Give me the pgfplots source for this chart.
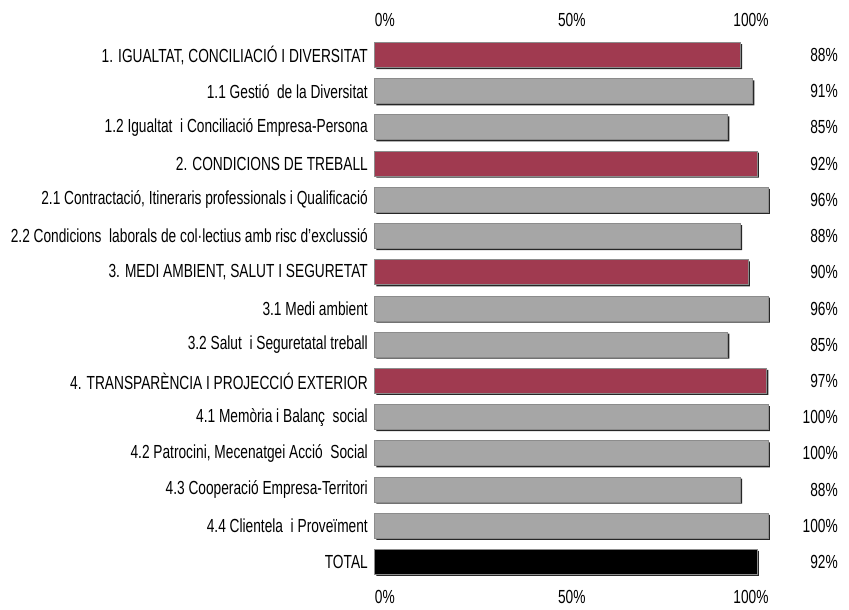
\documentclass[border=0pt]{standalone}
\usepackage{pgfplots}
\pgfplotsset{compat=1.18}
\usepackage{fontspec}
\setmainfont{Liberation Sans}[FakeStretch=0.725]
\definecolor{maroon}{HTML}{A03A50}
\definecolor{bargray}{HTML}{A6A6A6}
\definecolor{edgegray}{HTML}{8C8C8C}
\newcommand{\lblfont}{\fontsize{19}{19}\selectfont}
\begin{document}
\begin{tikzpicture}
\pgfplotsset{
  base/.style={
    scale only axis, width=393.5bp, height=557.6bp,
    xmin=0, xmax=100, ymin=-0.7, ymax=14.7, y dir=reverse,
    axis line style={draw=none}, major tick length=0pt,
    xtick={0,50,100},
    xticklabels={\makebox[0pt][l]{0\%},50\%,\makebox[0pt][r]{100\%}},
    ytick={0,...,14},
    tick label style={font=\lblfont},
    clip=false,
  },
  mybar/.style={xbar, bar shift=0pt, bar width=25bp},
}
\begin{axis}[base, name=main,
  xticklabel style={anchor=north, inner sep=0pt, yshift=-2.7bp},
  yticklabel style={anchor=east, inner sep=0pt, xshift=-7bp},
  yticklabels={
    {1. IGUALTAT, CONCILIACIÓ I DIVERSITAT},
    {1.1 Gestió\ \ de la Diversitat},
    {1.2 Igualtat\ \ i Conciliació Empresa-Persona},
    {2. CONDICIONS DE TREBALL},
    {2.1 Contractació, Itineraris professionals i Qualificació},
    {2.2 Condicions\ \ laborals de col·lectius amb risc d'exclussió},
    {3. MEDI AMBIENT, SALUT I SEGURETAT},
    {3.1 Medi ambient},
    {3.2 Salut\ \ i Seguretatal treball\ },
    {4. TRANSPARÈNCIA I PROJECCIÓ EXTERIOR},
    {4.1 Memòria i Balanç\ \ social},
    {4.2 Patrocini, Mecenatgei Acció\ \ Social},
    {4.3 Cooperació Empresa-Territori},
    {4.4 Clientela\ \ i Proveïment},
    {TOTAL}},
]
% shadows
\addplot[mybar, fill=black!85, draw=none, xshift=1.5bp, yshift=-1.5bp] coordinates {
(92.9,0) (96.0,1) (89.7,2) (97.2,3) (100,4) (92.9,5) (94.9,6) (100,7)
(89.7,8) (99.6,9) (100,10) (100,11) (92.9,12) (100,13) (97.2,14)};
% section bars
\addplot[mybar, fill=maroon, draw=edgegray, line width=1bp] coordinates {
(92.9,0) (97.2,3) (94.9,6) (99.6,9)};
% sub-item bars
\addplot[mybar, fill=bargray, draw=edgegray, line width=1bp] coordinates {
(96.0,1) (89.7,2) (100,4) (92.9,5) (100,7) (89.7,8) (100,10) (100,11) (92.9,12) (100,13)};
% total
\addplot[mybar, fill=black, draw=edgegray, line width=1bp] coordinates {(97.2,14)};
\end{axis}
\begin{axis}[base,
  xticklabel pos=right, yticklabel pos=right,
  xticklabel style={anchor=south, inner sep=0pt, yshift=2.4bp},
  yticklabel style={anchor=east, inner sep=0pt, xshift=69.5bp},
  yticklabels={88\%,91\%,85\%,92\%,96\%,88\%,90\%,96\%,85\%,97\%,100\%,100\%,88\%,100\%,92\%},
]
\addplot[draw=none] coordinates {(0,0) (100,14)};
\end{axis}
\pgfresetboundingbox
\path[use as bounding box] (main.south west) ++(-375bp,-22.7bp) rectangle ++(849bp,610bp);
\end{tikzpicture}
\end{document}
